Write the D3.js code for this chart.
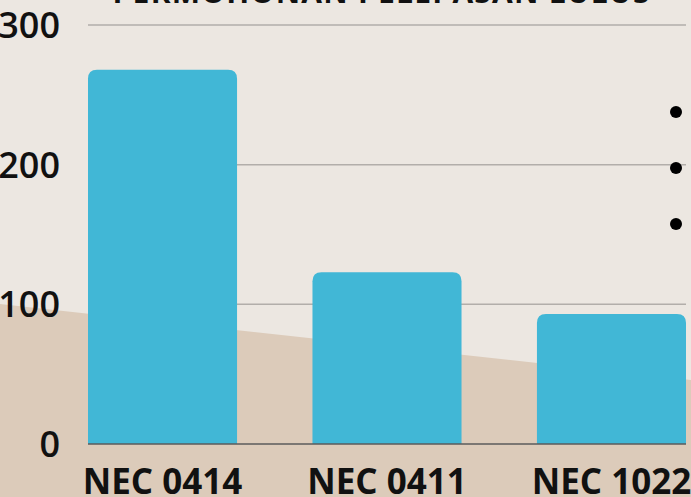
<!DOCTYPE html>
<html>
<head>
<meta charset="utf-8">
<script src="https://cdn.jsdelivr.net/npm/d3@7"></script>
<style>
  html, body { margin: 0; padding: 0; background: #ece7e1; overflow: hidden; }
  svg { display: block; }
</style>
</head>
<body>
<div id="chart"></div>
<script>
// chart data
const categories = ["NEC 0414", "NEC 0411", "NEC 1022"];
const values = [268, 123, 93];
const yTicks = [0, 100, 200, 300];
const titleText = "PERMOHONAN PELEPASAN LULUS";
const bulletCount = 3;

const W = 691, H = 497;
const margin = { top: 25, right: 5, bottom: 53, left: 88 };

const svg = d3.select("#chart").append("svg")
    .attr("width", W)
    .attr("height", H);

// page background
svg.append("rect")
    .attr("width", W).attr("height", H)
    .attr("fill", "#ece7e1");

// tan slanted shape at the bottom
svg.append("path")
    .attr("d", "M0,304 L" + W + ",380 L" + W + "," + H + " L0," + H + " Z")
    .attr("fill", "#dccbba");

const x = d3.scaleBand()
    .domain(categories)
    .range([margin.left, W - margin.right])
    .paddingInner(0.336)
    .paddingOuter(0);

const y = d3.scaleLinear()
    .domain([0, 300])
    .range([H - margin.bottom, margin.top]);

// title (cut off at top)
svg.append("text")
    .attr("x", 381)
    .attr("y", 3)
    .attr("text-anchor", "middle")
    .attr("font-family", "Open Sans")
    .attr("font-weight", 700)
    .attr("font-size", "30px")
    .attr("fill", "#111")
    .attr("textLength", 537)
    .text(titleText);

// grid lines
svg.append("g")
    .selectAll("line")
    .data(yTicks.filter(d => d > 0))
    .join("line")
    .attr("x1", margin.left)
    .attr("x2", W - margin.right)
    .attr("y1", d => y(d))
    .attr("y2", d => y(d))
    .attr("stroke", "#b2aeaa")
    .attr("stroke-width", 1.5);

// y tick labels
svg.append("g")
    .selectAll("text")
    .data(yTicks)
    .join("text")
    .attr("x", 60)
    .attr("y", d => y(d))
    .attr("dy", "0.36em")
    .attr("text-anchor", "end")
    .attr("font-family", "Open Sans")
    .attr("font-weight", 600)
    .attr("font-size", "36px")
    .attr("fill", "#111")
    .text(d => d);

// bars with rounded top corners
const r = 9;
function barPath(d, i) {
    const x0 = x(categories[i]), w = x.bandwidth();
    const y0 = y(d), yb = y(0);
    return "M" + x0 + "," + yb +
        " L" + x0 + "," + (y0 + r) +
        " Q" + x0 + "," + y0 + " " + (x0 + r) + "," + y0 +
        " L" + (x0 + w - r) + "," + y0 +
        " Q" + (x0 + w) + "," + y0 + " " + (x0 + w) + "," + (y0 + r) +
        " L" + (x0 + w) + "," + yb + " Z";
}
svg.append("g")
    .selectAll("path")
    .data(values)
    .join("path")
    .attr("d", barPath)
    .attr("fill", "#41b7d6");

// baseline
svg.append("line")
    .attr("x1", margin.left)
    .attr("x2", W - margin.right)
    .attr("y1", y(0))
    .attr("y2", y(0))
    .attr("stroke", "#5b5b5b")
    .attr("stroke-width", 1.5);

// x labels
svg.append("g")
    .selectAll("text")
    .data(categories)
    .join("text")
    .attr("x", d => x(d) + x.bandwidth() / 2)
    .attr("y", 494)
    .attr("text-anchor", "middle")
    .attr("font-family", "Open Sans")
    .attr("font-weight", 700)
    .attr("font-size", "35px")
    .attr("fill", "#111")
    .text(d => d);

// bullets of a cut-off list on the right
svg.append("g")
    .selectAll("circle")
    .data(d3.range(bulletCount))
    .join("circle")
    .attr("cx", 676)
    .attr("cy", d => 112 + d * 56)
    .attr("r", 6)
    .attr("fill", "#000");
</script>
</body>
</html>
